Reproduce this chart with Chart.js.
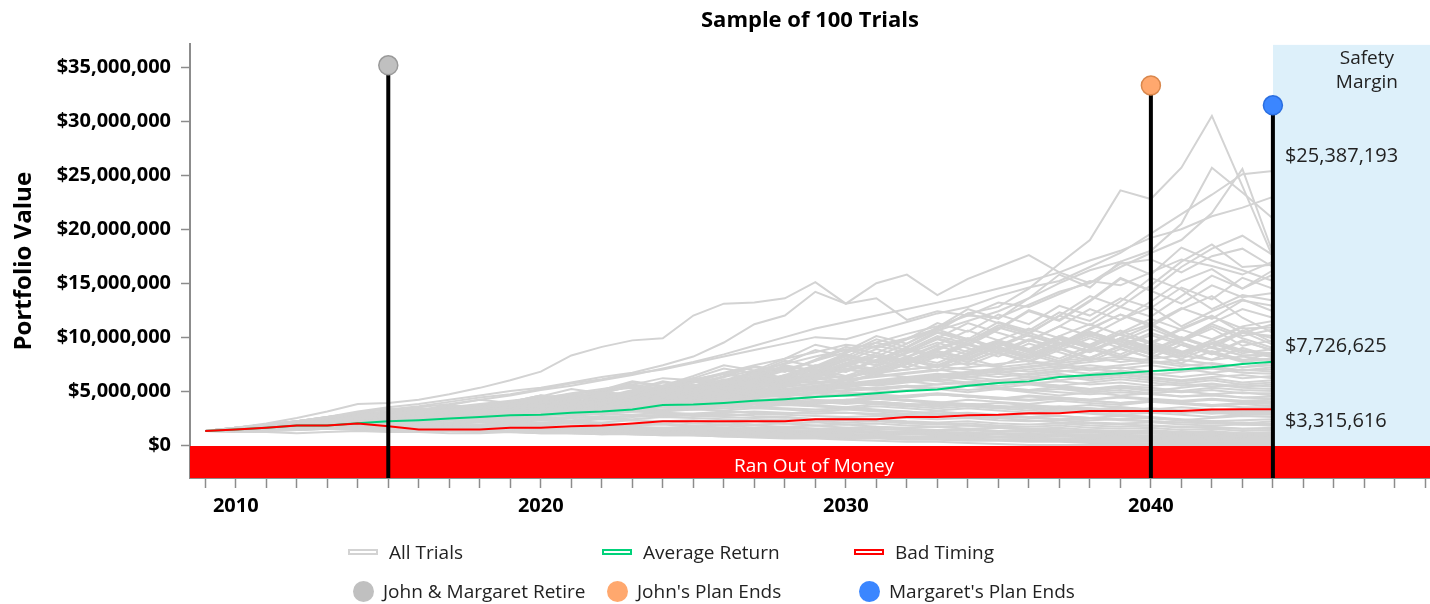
<!DOCTYPE html>
<html><head><meta charset="utf-8">
<script src="https://cdn.jsdelivr.net/npm/chart.js@4.4.0/dist/chart.umd.min.js"></script>
<style>
html,body{margin:0;padding:0;background:#fff;}
#wrap{position:relative;width:1430px;height:604px;overflow:hidden;}
canvas{display:block;}
.lg{position:absolute;font-family:'Open Sans',sans-serif;font-size:19px;color:#222;display:flex;align-items:center;white-space:nowrap;height:26px;}
.ln{width:30px;height:6px;box-sizing:border-box;border:2px solid;background:#fff;margin-right:11px;}
.dot{width:21px;height:21px;border-radius:50%;margin-right:9px;}
</style></head><body>
<div id="wrap"><canvas id="c" width="1430" height="604"></canvas><div id="legend"></div></div>
<script>
// ---------- DATA ----------
const TITLE = 'Sample of 100 Trials';
const Y_TITLE = 'Portfolio Value';
const years = [2009,2010,2011,2012,2013,2014,2015,2016,2017,2018,2019,2020,2021,2022,2023,2024,2025,2026,2027,2028,2029,2030,2031,2032,2033,2034,2035,2036,2037,2038,2039,2040,2041,2042,2043,2044];
const yTickValues = [0,5000000,10000000,15000000,20000000,25000000,30000000,35000000];
const xTickYears = [2009,2010,2011,2012,2013,2014,2015,2016,2017,2018,2019,2020,2021,2022,2023,2024,2025,2026,2027,2028,2029,2030,2031,2032,2033,2034,2035,2036,2037,2038,2039,2040,2041,2042,2043,2044,2045,2046,2047,2048,2049];
const xLabelYears = [2010,2020,2030,2040];

// Average Return and Bad Timing, in $ millions
const averageReturn = [1.30,1.45,1.60,1.80,1.80,2.02,2.20,2.30,2.45,2.60,2.75,2.80,3.00,3.10,3.30,3.72,3.75,3.90,4.10,4.25,4.45,4.60,4.80,5.00,5.15,5.50,5.75,5.90,6.30,6.50,6.65,6.85,7.00,7.20,7.50,7.726625];
const badTiming = [1.30,1.45,1.60,1.80,1.80,2.00,1.75,1.45,1.45,1.45,1.60,1.60,1.75,1.80,2.00,2.20,2.20,2.20,2.20,2.20,2.40,2.40,2.40,2.60,2.60,2.75,2.80,2.95,2.95,3.15,3.15,3.15,3.15,3.30,3.32,3.315616];

// All 100 trials, in $100,000 units, one value per year 2009-2044
const trials = [
[13,15,18,20,23,26, 28,31,30,34,38,42, 46,44,50,55,61,66, 72,70,78,86,92,99, 108,122,128,145,168,190, 236,228,257,305,240,174],
[13,16,19,22,26,30, 33,36,40,44,47,52, 57,61,66,70,76,82, 88,94,100,98,106,114, 122,128,138,146,152,165, 178,196,214,232,251,254],
[13,14,17,19,22,25, 27,30,33,35,40,43, 48,52,56,62,60,67, 74,80,86,93,90,98, 106,115,124,136,150,162, 170,180,205,257,234,210],
[13,15,16,19,21,24, 26,29,32,34,37,41, 45,49,47,53,58,63, 69,75,82,88,95,103, 110,120,118,130,142,150, 165,178,190,215,256,178],
[13,16,18,21,25,29, 31,35,38,42,46,51, 55,60,65,71,77,84, 92,100,108,114,120,126, 132,138,145,152,160,171, 180,192,200,212,220,230],
[13,16,20,25,31,38, 39,42,47,53,60,68, 83,91,97,99,120,131, 132,136,151,131,150,158, 139,154,165,176,160,150, 168,172,160,175,182,165],
[13,15,18,22,26,31, 35,38,42,46,50,53, 58,63,67,74,82,95, 112,120,142,131,136,116, 124,120,132,128,140,152, 148,160,172,166,158,170],
[13,14,17,19,22,21, 25,29,27,32,37,35, 41,47,44,51,59,55, 64,74,69,80,92,86, 99,113,104,96,110,126, 116,133,152,163,145,158],
[13,15,17,16,20,23, 27,25,30,35,33,39, 46,43,50,58,54,63, 73,68,79,91,85,98, 113,105,121,112,129,120, 136,127,146,135,155,145],
[13,14,16,19,18,22, 25,29,27,32,37,35, 41,38,45,52,49,57, 66,61,71,83,77,90, 104,96,111,103,120,111, 128,119,138,157,145,162],
[13,16,19,22,25,29, 27,32,37,34,40,46, 43,50,58,54,62,71, 66,76,88,82,95,88, 101,94,108,125,116,134, 155,143,131,148,137,141],
[13,15,17,20,23,22, 26,30,28,33,38,36, 42,49,46,54,62,58, 67,78,73,85,98,91, 106,122,113,104,120,138, 128,148,170,186,165,167],
[13,14,16,15,19,22, 25,23,27,31,29,34, 40,37,43,50,47,55, 64,59,68,79,74,86, 99,92,107,124,115,133, 154,143,165,182,194,176],
[13,15,18,21,25,28, 26,31,36,34,40,46, 43,51,59,55,64,74, 69,80,93,87,101,94, 109,126,117,136,158,146, 170,158,183,171,162,152],
[13,14,16,19,18,22, 26,24,28,33,31,36, 42,39,46,53,50,58, 67,62,72,84,78,91, 105,98,114,106,123,115, 133,155,144,126,139,134],
[13,15,18,17,21,25, 27,31,29,35,39,37, 44,49,45,53,61,57, 66,72,64,75,83,78, 90,99,86,97,110,101, 116,128,110,124,135,124],
[13,14,16,15,18,21, 20,24,27,25,30,34, 31,37,42,39,46,53, 49,57,64,58,67,75, 69,81,90,82,94,86, 99,111,98,113,126,118],
[13,16,18,21,20,24, 28,26,31,36,33,39, 45,41,48,55,51,60, 68,62,71,80,74,85, 95,86,97,108,99,92, 104,117,107,98,110,115],
[13,15,14,17,20,23, 22,26,30,28,33,38, 35,41,47,44,51,58, 54,62,70,64,73,82, 76,88,97,89,101,93, 106,95,108,120,104,112],
[13,14,17,19,18,22, 26,24,29,33,31,36, 42,39,45,51,47,55, 63,58,67,76,70,81, 92,84,96,88,101,112, 102,94,107,119,108,109],
[13,16,18,22,25,28, 26,31,36,33,39,45, 41,48,55,51,59,66, 61,70,64,74,83,77, 88,98,90,81,93,104, 96,108,97,112,101,107],
[13,14,16,15,19,21, 24,22,26,30,28,33, 38,35,41,47,44,51, 58,54,62,71,65,75, 86,79,91,102,94,108, 121,110,126,138,118,104],
[13,15,18,20,19,23, 27,25,30,35,32,37, 34,40,46,42,49,56, 52,60,68,62,71,80, 73,84,94,86,98,90, 103,112,99,90,104,101],
[13,16,19,22,26,29, 27,32,37,34,40,46, 42,49,56,52,60,54, 63,71,65,76,85,78, 89,99,90,82,94,105, 96,88,100,91,106,99],
[13,14,15,17,20,19, 23,26,24,29,33,31, 37,42,39,46,53,49, 57,65,60,69,78,72, 83,94,86,78,90,101, 93,84,96,108,92,97],
[13,15,17,16,20,23, 21,25,29,27,32,36, 33,39,45,42,48,55, 51,59,67,62,71,80, 74,85,95,87,100,91, 103,94,86,97,109,95],
[13,14,17,20,19,22, 25,28,26,31,36,33, 39,45,42,49,56,52, 60,69,63,73,82,76, 87,79,91,84,76,88, 99,91,82,94,105,93],
[13,15,16,19,22,21, 24,28,26,31,35,33, 38,44,41,48,55,51, 46,54,62,57,66,75, 84,77,88,80,91,103, 94,85,97,110,99,90],
[13,16,19,22,26,30, 34,31,37,42,39,45, 52,48,55,51,58,66, 61,70,64,73,82,76, 87,80,73,84,95,87, 99,90,82,94,85,89],
[13,14,16,18,17,21, 24,22,27,31,29,34, 39,36,42,48,45,52, 59,55,63,71,66,75, 84,77,87,98,90,81, 91,102,93,84,96,88],
[13,15,18,17,21,24, 28,26,31,36,34,40, 46,43,50,46,53,61, 56,65,74,69,78,72, 82,93,85,77,88,99, 90,81,93,85,97,87],
[13,14,16,19,22,26, 24,28,32,30,35,40, 37,43,49,46,53,60, 56,64,73,68,78,88, 81,93,85,97,89,80, 92,104,95,86,78,86],
[13,15,17,20,19,23, 27,25,29,34,31,36, 42,39,45,52,48,55, 63,58,66,61,70,80, 73,83,94,86,78,89, 81,92,84,95,87,85],
[13,16,18,17,21,25, 29,27,32,37,35,41, 47,44,51,59,55,64, 73,68,78,89,82,94, 107,98,89,81,93,105, 96,87,99,90,83,84],
[13,14,16,18,21,20, 24,28,26,31,29,34, 39,37,43,49,46,53, 60,56,64,73,68,77, 87,81,92,104,95,86, 98,89,80,91,83,83],
[13,15,17,20,23,22, 26,30,28,33,38,36, 42,48,45,52,60,56, 64,73,68,78,89,82, 93,106,97,88,80,92, 84,96,87,79,90,82],
[13,15,16,19,18,21, 25,23,27,31,29,34, 40,37,43,49,46,53, 61,57,65,74,69,79, 72,83,94,86,98,90, 82,93,85,97,88,81],
[13,14,16,19,22,25, 23,27,31,29,34,39, 36,42,48,45,52,60, 55,64,73,68,78,89, 82,74,85,78,71,81, 92,84,76,87,79,80],
[13,16,18,21,20,24, 28,26,30,35,33,38, 44,41,48,55,51,59, 67,62,71,82,76,86, 98,90,82,94,86,78, 89,81,93,85,77,80],
[13,14,15,18,21,24, 22,26,30,28,33,38, 35,41,47,44,51,59, 55,64,74,68,79,90, 83,96,109,101,93,107, 121,112,127,117,134,129],
[13,15,17,19,21,23, 25,27,29,31,33,35, 37,40,43,46,49,52, 55,58,61,64,67,70, 73,76,72,75,78,81, 77,80,83,79,82,78],
[13,14,16,17,19,21, 23,24,26,28,30,32, 34,37,39,42,45,48, 51,54,57,60,63,66, 69,72,75,78,74,77, 80,76,79,75,72,76],
[13,15,18,20,22,25, 28,30,33,36,34,37, 40,43,46,49,52,55, 58,61,58,61,64,67, 70,66,69,72,75,71, 74,77,73,76,72,74],
[13,14,15,16,18,20, 21,22,24,26,28,30, 32,34,36,39,41,44, 46,49,52,55,58,61, 64,67,70,73,76,79, 82,78,75,72,69,72],
[13,15,17,20,22,24, 26,28,30,33,31,33, 35,38,40,43,46,49, 52,50,53,56,59,62, 65,68,71,68,71,74, 71,74,70,73,69,70],
[13,16,18,20,23,26, 29,32,35,38,41,44, 47,50,53,51,54,57, 60,63,61,64,67,70, 73,70,67,70,73,69, 72,68,71,67,70,68],
[13,14,16,18,20,22, 24,26,28,27,29,31, 33,35,38,40,43,46, 49,52,55,58,56,59, 62,65,68,65,68,71, 68,65,68,71,67,66],
[13,15,16,18,20,22, 24,26,25,27,29,31, 33,36,38,41,44,47, 50,48,51,54,57,60, 63,66,63,66,69,66, 69,66,63,66,62,64],
[13,14,16,18,21,23, 25,27,30,32,35,37, 40,43,41,44,47,50, 53,56,59,57,60,63, 60,63,66,63,60,63, 66,63,60,63,65,62],
[13,15,17,19,21,24, 26,29,31,34,37,40, 43,46,49,52,55,58, 61,64,67,70,66,63, 66,63,60,63,66,62, 65,62,59,62,58,60],
[13,14,15,17,19,20, 22,24,26,28,30,32, 34,36,38,40,42,45, 47,50,52,55,58,61, 64,61,58,61,64,60, 63,60,57,60,56,58],
[13,16,19,22,25,28, 31,34,33,36,39,42, 45,48,46,49,52,55, 53,56,54,57,55,58, 61,58,55,58,55,58, 61,58,55,57,54,56],
[13,15,17,19,21,23, 25,27,29,31,33,35, 37,39,41,43,45,47, 49,51,53,55,57,59, 56,58,60,57,59,56, 58,55,57,54,56,54],
[13,14,16,18,19,21, 23,25,27,29,31,33, 35,37,40,42,44,47, 49,52,54,57,59,62, 59,56,53,56,53,50, 53,50,53,56,53,52],
[13,15,18,20,23,26, 29,31,34,37,40,43, 46,44,47,50,48,51, 49,52,50,53,51,54, 52,55,53,51,54,52, 55,53,50,53,51,50],
[13,14,15,17,18,20, 22,23,25,27,28,30, 32,34,36,38,40,42, 44,46,48,50,52,54, 56,58,60,57,55,52, 54,51,49,51,48,48],
[13,15,17,18,20,22, 24,26,28,30,29,31, 33,35,37,39,41,43, 45,47,49,51,53,55, 53,51,53,50,52,49, 51,48,50,47,49,46],
[13,16,18,21,23,26, 28,31,34,32,35,37, 40,43,45,48,46,49, 51,54,57,55,52,55, 52,49,52,49,46,49, 46,48,45,47,44,45],
[13,14,16,17,19,20, 22,23,25,26,28,29, 31,33,34,36,38,40, 41,43,45,47,49,51, 53,55,53,51,49,47, 49,47,45,46,44,43],
[13,15,17,19,22,24, 27,29,32,34,37,35, 38,40,43,41,44,46, 49,47,45,48,46,44, 47,45,43,46,44,42, 45,43,41,43,41,42],
[13,14,16,18,20,22, 24,26,28,30,32,34, 36,34,36,38,40,42, 44,46,48,46,44,46, 48,46,44,42,44,42, 44,42,40,42,40,40],
[13,15,16,18,20,21, 23,25,27,29,31,33, 35,37,39,41,43,45, 47,49,51,49,47,45, 47,45,43,41,43,41, 39,41,39,37,39,38],
[13,16,18,20,22,25, 27,30,32,35,33,36, 38,41,39,42,40,43, 41,44,42,40,43,41, 39,42,40,38,41,39, 37,40,38,36,38,36],
[13,14,15,16,18,19, 20,22,23,24,26,27, 29,30,32,33,35,36, 38,39,41,42,44,45, 47,45,43,45,43,41, 39,41,39,37,35,35],
[13,15,17,19,21,23, 25,27,29,28,30,32, 34,36,38,37,39,41, 43,41,39,41,43,41, 39,37,39,37,35,37, 35,33,35,33,31,33],
[13,14,16,18,19,21, 23,24,26,28,30,29, 31,33,35,37,36,38, 40,42,40,38,40,38, 36,38,36,34,36,34, 32,34,32,30,32,31],
[13,15,18,20,23,25, 28,30,33,31,33,35, 38,36,38,40,38,40, 42,40,38,40,38,36, 38,36,34,36,34,32, 34,32,30,32,30,30],
[13,14,16,17,19,21, 23,24,26,28,27,29, 31,32,34,36,35,37, 38,40,39,41,39,37, 39,37,35,37,35,33, 35,33,31,29,31,32],
[13,15,17,18,20,22, 24,26,25,27,29,31, 33,35,34,36,38,37, 39,41,40,42,40,38, 36,38,36,34,32,34, 32,30,32,30,28,30],
[13,16,19,21,24,27, 30,33,31,34,32,35, 33,36,34,37,35,38, 36,39,37,35,38,36, 34,36,34,32,34,32, 30,32,30,31,29,31],
[13,14,15,17,18,20, 21,23,24,26,27,29, 30,32,33,35,34,36, 35,37,36,34,36,34, 32,34,32,30,32,30, 28,30,28,26,28,28],
[13,15,17,19,21,23, 25,24,26,28,27,29, 31,30,32,31,33,32, 34,33,31,33,31,29, 31,29,27,29,27,25, 27,25,23,25,27,26],
[13,14,16,17,18,19, 20,22,23,24,26,27, 28,29,31,32,33,34, 35,34,33,34,32,31, 29,30,28,26,27,25, 24,25,23,22,23,24],
[13,15,16,18,20,22, 24,26,25,27,26,28, 27,29,28,30,29,31, 30,29,31,30,28,27, 28,26,25,26,24,23, 24,22,21,22,20,22],
[13,14,15,16,17,18, 19,20,21,22,23,24, 25,26,27,28,29,30, 31,30,29,30,29,28, 27,26,27,25,24,25, 23,22,21,20,21,20],
[13,15,17,18,20,21, 23,22,24,23,25,24, 26,25,27,26,28,27, 29,28,27,26,27,25, 24,25,23,22,23,21, 20,21,19,18,19,18],
[13,14,16,18,19,21, 22,24,23,25,24,26, 25,27,26,28,27,26, 25,26,24,23,24,22, 21,22,20,19,20,18, 17,18,16,17,15,16],
[13,15,16,17,19,20, 21,22,21,23,22,24, 23,25,24,26,25,24, 23,24,22,21,22,20, 19,20,18,17,18,16, 15,16,14,15,13,14],
[13,14,15,17,18,19, 20,21,20,22,21,23, 22,24,23,22,23,21, 22,20,21,19,20,18, 17,18,16,15,16,14, 13,14,12,13,11,12],
[13,15,17,19,20,22, 23,22,21,23,22,21, 22,21,23,22,20,21, 19,20,18,19,17,16, 17,15,16,14,13,14, 12,13,11,12,10,11],
[13,14,15,16,17,18, 19,18,20,19,21,20, 21,20,19,20,18,19, 18,17,18,16,17,15, 14,15,13,14,12,13, 11,12,10,11,9,10],
[13,15,16,18,19,20, 21,20,19,21,20,19, 20,19,18,19,17,18, 16,17,15,16,14,15, 13,14,12,13,11,12, 10,11,9,10,8,9],
[13,14,16,17,18,20, 19,18,17,18,17,16, 17,16,15,16,15,14, 15,14,13,14,12,13, 11,12,10,11,9,10, 9,8,9,7,8,8],
[13,15,17,18,20,21, 20,19,18,17,18,17, 16,17,16,15,14,15, 14,13,14,12,13,11, 12,10,11,9,10,8, 9,7,8,6,7,7],
[13,14,15,16,17,19, 18,17,18,17,16,17, 16,15,14,15,14,13, 14,12,13,11,12,10, 11,9,10,8,9,7, 8,6,7,5,6,6],
[13,15,16,17,19,20, 19,20,19,18,19,18, 17,18,17,16,17,16, 15,16,15,14,15,14, 13,14,13,12,13,12, 11,12,11,10,11,10],
[13,14,16,18,20,22, 23,25,27,26,28,30, 32,31,33,35,34,36, 38,37,39,41,40,38, 36,38,36,34,32,30, 28,26,24,22,20,19],
[13,15,17,19,22,24, 26,29,31,34,33,36, 38,41,40,43,45,48, 47,45,48,46,44,42, 40,38,36,34,31,29, 27,25,23,21,19,18],
[13,14,16,17,19,21, 22,24,26,28,30,32, 34,36,35,37,39,38, 40,38,36,35,33,31, 29,27,25,23,21,20, 19,18,17,16,15,15],
[13,15,17,18,20,22, 24,23,25,27,26,28, 30,29,31,30,28,29, 27,26,24,25,23,21, 20,18,17,15,14,13, 12,11,10,9,8,7],
[13,14,15,16,17,18, 17,16,15,14,13,12, 12,11,10,9,9,8, 7,6,6,5,4,3, 3,2,1,0,0,0, 0,0,0,0,0,0],
[13,12,13,14,15,15, 14,13,13,12,12,11, 11,10,10,9,9,8, 8,7,7,6,6,5, 5,4,4,3,3,2, 2,1,1,0,0,0],
[13,14,14,15,16,16, 15,15,14,14,13,13, 12,12,11,11,10,10, 9,9,8,8,7,7, 6,6,5,5,4,4, 3,3,2,2,1,1],
[13,12,12,11,12,13, 12,12,11,11,12,11, 11,10,11,10,10,9, 9,8,8,7,7,6, 6,5,5,4,4,3, 3,3,2,2,2,2],
[13,14,13,14,15,14, 14,13,13,12,12,12, 11,11,10,10,9,9, 9,8,8,7,7,6, 6,6,5,5,5,4, 4,4,3,3,3,3],
[13,13,14,14,15,16, 15,15,14,14,14,13, 13,12,12,12,11,11, 10,10,9,9,8,8, 7,7,7,6,6,5, 5,5,4,4,4,4],
[13,15,16,17,17,18, 17,16,16,15,15,14, 14,13,13,12,12,11, 11,10,10,9,9,8, 8,8,7,7,6,6, 6,5,5,5,5,5],
[13,14,15,15,16,17, 16,16,15,15,15,14, 14,14,13,13,12,12, 12,11,11,10,10,10, 9,9,8,8,8,7, 7,7,6,6,6,6],
[13,14,15,16,17,18, 18,17,17,16,16,16, 15,15,14,14,14,13, 13,12,12,12,11,11, 10,10,10,9,9,9, 8,8,8,7,7,7],
[13,15,16,18,19,20, 19,19,18,18,17,17, 16,16,16,15,15,14, 14,14,13,13,12,12, 12,11,11,10,10,10, 9,9,9,8,8,8]
];
const TRIAL_UNIT = 100000;
const MILLION = 1000000;

// Milestones (year, marker height in $)
const eventNames = ["John & Margaret Retire","John's Plan Ends","Margaret's Plan Ends"];
const eventYears = [2015, 2040, 2044];
const eventValues = [35190000, 33330000, 31480000];
const eventFill = ['#c0c0c0','#ffa86e','#3b86ff'];
const eventStroke = ['#9a9a9a','#d9874c','#2a6ee0'];

// End-of-plan labels
const endLabelValues = [25387193, 7726625, 3315616];
const endLabelYear = 2044;

// Bands
const SAFETY_START = 2044;
const SAFETY_TEXT = ['Safety', 'Margin'];
const RAN_OUT_TEXT = 'Ran Out of Money';

const lineLegendNames = ['All Trials','Average Return','Bad Timing'];

// ---------- SCALE RANGE / STYLE ----------
const X_MIN = 2008.5, X_MAX = 2049.15;
const Y_MIN = -3055000, Y_MAX = 37130000;
const BAND_TOP = -100000;
const GRAY = '#d3d3d3', GREEN = '#00d27a', RED = '#ff0000';
const FONT = "'Open Sans', 'Noto Sans', sans-serif";

const pts = (arr, mult) => years.map((yr, i) => ({x: yr, y: arr[i] * mult}));

const datasets = [];
eventYears.forEach((yr, i) => {
  datasets.push({
    data: [{x: yr, y: Y_MIN}, {x: yr, y: eventValues[i]}],
    borderColor: '#000', borderWidth: 4,
    pointRadius: [0, 9.5], pointBackgroundColor: eventFill[i], pointBorderColor: eventStroke[i], pointBorderWidth: 1.5,
    order: 0, clip: false
  });
});
datasets.push({data: pts(badTiming, MILLION), borderColor: RED, borderWidth: 2, pointRadius: 0, order: 1});
datasets.push({data: pts(averageReturn, MILLION), borderColor: GREEN, borderWidth: 2, pointRadius: 0, order: 2});
trials.forEach(t => datasets.push({data: pts(t, TRIAL_UNIT), borderColor: GRAY, borderWidth: 2, pointRadius: 0, order: 3}));
datasets.push({data: [{x: X_MIN, y: BAND_TOP}, {x: X_MAX, y: BAND_TOP}], borderWidth: 0, borderColor: 'rgba(0,0,0,0)', backgroundColor: RED, fill: 'start', pointRadius: 0, order: 4});
datasets.push({data: [{x: SAFETY_START, y: Y_MAX}, {x: X_MAX, y: Y_MAX}], borderWidth: 0, borderColor: 'rgba(0,0,0,0)', backgroundColor: '#ddf0fa', fill: {value: BAND_TOP}, pointRadius: 0, order: 5});

const annotate = {
  id: 'annotate',
  afterDatasetsDraw(chart) {
    const {ctx, chartArea: a, scales: {x, y}} = chart;
    ctx.save();
    ctx.font = '19px ' + FONT;
    ctx.fillStyle = '#fff'; ctx.textAlign = 'center'; ctx.textBaseline = 'middle';
    const bt = y.getPixelForValue(BAND_TOP);
    ctx.fillText(RAN_OUT_TEXT, (x.getPixelForValue(X_MIN) + x.getPixelForValue(X_MAX)) / 2 + 4, (bt + a.bottom) / 2 + 5);
    ctx.fillStyle = '#222';
    const sx = x.getPixelForValue(SAFETY_START) + 94;
    SAFETY_TEXT.forEach((t, i) => ctx.fillText(t, sx, a.top + 14 + i * 24));
    ctx.font = '20px ' + FONT;
    ctx.textAlign = 'left';
    const dys = [-15, -15, 12];
    endLabelValues.forEach((v, i) => {
      ctx.fillText('$' + v.toLocaleString('en-US'), x.getPixelForValue(endLabelYear) + 12, y.getPixelForValue(v) + dys[i]);
    });
    ctx.restore();
  }
};

new Chart(document.getElementById('c'), {
  type: 'line',
  data: {datasets},
  options: {
    responsive: false, animation: false, devicePixelRatio: 1,
    layout: {autoPadding: false, padding: {left: 0, right: 0, top: 0, bottom: 76}},
    plugins: {
      legend: {display: false}, tooltip: {enabled: false},
      title: {display: true, text: TITLE, fullSize: false, color: '#000', font: {family: FONT, size: 22, weight: 'bold'}, padding: {top: 8, bottom: 10}}
    },
    elements: {line: {tension: 0}},
    scales: {
      x: {
        type: 'linear', min: X_MIN, max: X_MAX,
        afterBuildTicks: s => { s.ticks = xTickYears.map(v => ({value: v})); },
        afterFit: s => { s.height = 50; s.paddingLeft = 0; s.paddingRight = 0; },
        border: {display: true, color: '#8c8c8c', width: 2},
        grid: {drawOnChartArea: false, drawTicks: true, tickLength: 10, tickColor: '#8c8c8c', tickWidth: 1.5},
        ticks: {autoSkip: false, maxRotation: 0, padding: 6, color: '#000', font: {family: FONT, size: 20, weight: 'bold'},
          callback: v => xLabelYears.includes(v) ? String(v) : ''}
      },
      y: {
        type: 'linear', min: Y_MIN, max: Y_MAX,
        afterBuildTicks: s => { s.ticks = yTickValues.map(v => ({value: v})); },
        afterFit: s => { s.width = 190; },
        border: {display: true, color: '#8c8c8c', width: 2},
        grid: {drawOnChartArea: false, drawTicks: true, tickLength: 9, tickColor: '#8c8c8c', tickWidth: 1.5},
        ticks: {padding: 10, color: '#000', font: {family: FONT, size: 20, weight: 'bold'},
          callback: v => '$' + Number(v).toLocaleString('en-US')},
        title: {display: true, text: Y_TITLE, color: '#000', font: {family: FONT, size: 24, weight: 'bold'}, padding: {top: 10, bottom: 0}}
      }
    }
  },
  plugins: [annotate]
});

// ---------- HTML legend ----------
const lg = document.getElementById('legend');
const lineColors = [GRAY, GREEN, RED];
const colLeft = [348, 602, 854];
lineLegendNames.forEach((n, i) => {
  const d = document.createElement('div');
  d.className = 'lg'; d.style.left = colLeft[i] + 'px'; d.style.top = (552 - 13) + 'px';
  d.innerHTML = '<span class="ln" style="border-color:' + lineColors[i] + '"></span><span></span>';
  d.lastChild.textContent = n;
  lg.appendChild(d);
});
eventNames.forEach((n, i) => {
  const d = document.createElement('div');
  d.className = 'lg'; d.style.left = (colLeft[i] + 5) + 'px'; d.style.top = (591 - 13) + 'px';
  d.innerHTML = '<span class="dot" style="background:' + eventFill[i] + '"></span><span></span>';
  d.lastChild.textContent = n;
  lg.appendChild(d);
});
</script>
</body></html>
